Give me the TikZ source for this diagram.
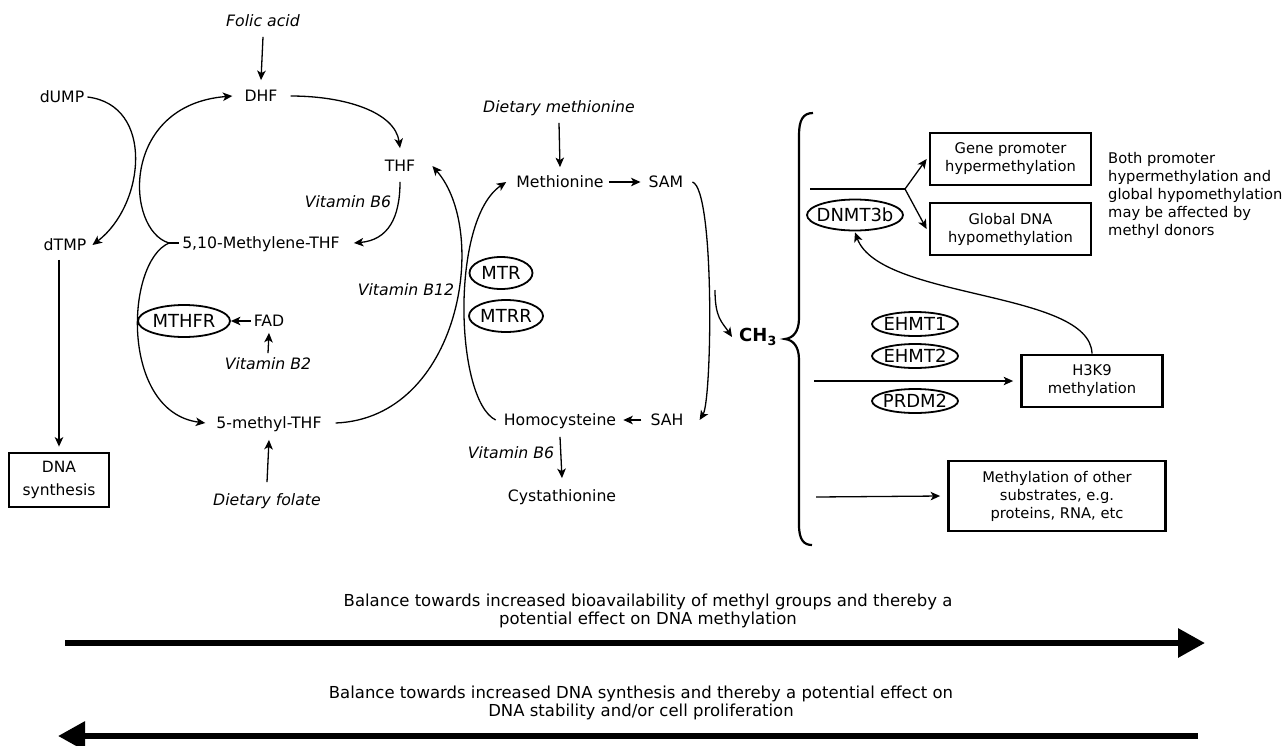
\documentclass[tikz,border=0pt]{standalone}
\usepackage{fontspec}
\setmainfont{DejaVu Sans}
\usetikzlibrary{arrows.meta,shapes.geometric}
\begin{document}
\begin{tikzpicture}[x=1pt,y=-1pt,
  lbl/.style={font=\fontsize{15.7}{19}\selectfont, text height=11.4pt, text depth=0pt, inner sep=3pt},
  itl/.style={lbl, font=\fontsize{15.7}{19}\selectfont\itshape},
  enz/.style={ellipse, draw, line width=1.8pt, inner xsep=-8pt, inner ysep=-4pt, text height=13pt, text depth=0pt, font=\fontsize{18}{20}\selectfont},
  box/.style={draw, line width=2.8pt, align=center, inner sep=0pt, font=\fontsize{14.7}{18}\selectfont},
  conn/.style={line width=1.3pt, -{Stealth[length=9.5pt,width=8.5pt,inset=2.5pt]}},
  plain/.style={line width=1.3pt},
  big/.style={line width=6pt, -{Triangle[length=27pt,width=28pt]}}
]
\useasboundingbox (0,0) rectangle (1284,745);

% ---------- folate cycle ----------
\node[itl] (folic) at (263,21) {Folic acid};
\node[lbl] (dhf) at (261,96) {DHF};
\node[lbl] (dump) at (62,97) {dUMP};
\node[lbl] (dtmp) at (65,245) {dTMP};
\node[lbl] (thf) at (400,166) {THF};
\node[itl] (vb6a) at (348,202) {Vitamin B6};
\node[lbl] (mthf) at (261,243) {5,10-Methylene-THF};
\node[enz, minimum width=92pt, minimum height=32pt] (mthfr) at (184,321) {MTHFR};
\node[lbl] (fad) at (269,321) {FAD};
\node[itl] (vb2) at (268,364) {Vitamin B2};
\node[lbl] (methylthf) at (269,423) {5-methyl-THF};
\node[itl] (folate) at (267,500) {Dietary folate};
\node[box, minimum width=100pt, minimum height=54pt, font=\fontsize{15.5}{23}\selectfont] (dnasyn) at (59,480) {DNA\\synthesis};
\node[itl] (vb12) at (406,290) {Vitamin B12};

% ---------- methionine cycle ----------
\node[itl] (dietmet) at (559,107) {Dietary methionine};
\node[lbl] (methionine) at (560,182) {Methionine};
\node[lbl] (sam) at (666,182) {SAM};
\node[enz, minimum width=63pt, minimum height=32pt] (mtr) at (501,273) {MTR};
\node[enz, minimum width=74pt, minimum height=32pt] (mtrr) at (506,316) {MTRR};
\node[lbl] (homocys) at (560,420) {Homocysteine};
\node[lbl] (sah) at (667,420) {SAH};
\node[itl] (vb6b) at (511,453) {Vitamin B6};
\node[lbl] (cysta) at (562,496) {Cystathionine};

% ---------- methylation ----------
\node[font=\fontsize{18}{20}\selectfont\bfseries, inner sep=3pt] (ch3) at (758,337) {CH\textsubscript{3}};
\node[box, minimum width=161pt, minimum height=52pt] (gene) at (1010.5,159) {Gene promoter\\hypermethylation};
\node[box, minimum width=161pt, minimum height=52pt] (global) at (1010.5,229) {Global DNA\\hypomethylation};
\node[enz, minimum width=96pt, minimum height=31pt] (dnmt) at (855,215) {DNMT3b};
\node[anchor=north west, align=left, inner sep=0pt, font=\fontsize{14.7}{18}\selectfont] (note) at (1108,152) {Both promoter\\hypermethylation and\\global hypomethylation\\may be affected by\\methyl donors};
\node[enz, minimum width=86pt, minimum height=24pt] (ehmt1) at (915,324) {EHMT1};
\node[enz, minimum width=86pt, minimum height=24pt] (ehmt2) at (915,356) {EHMT2};
\node[enz, minimum width=86pt, minimum height=24pt] (prdm2) at (915,401) {PRDM2};
\node[box, minimum width=141pt, minimum height=52pt] (h3k9) at (1092,381) {H3K9\\methylation};
\node[box, minimum width=217pt, minimum height=70pt] (other) at (1057,496) {Methylation of other\\substrates, e.g.\\proteins, RNA, etc};

% ---------- balance ----------
\node[align=center, inner sep=0pt, font=\fontsize{16.5}{18}\selectfont] (bal1) at (648,611) {Balance towards increased bioavailability of methyl groups and thereby a\\potential effect on DNA methylation};
\node[align=center, inner sep=0pt, font=\fontsize{16.5}{18}\selectfont] (bal2) at (641,703) {Balance towards increased DNA synthesis and thereby a potential effect on\\DNA stability and/or cell proliferation};

% ---------- coordinates ----------
\coordinate (mhook) at ([xshift=-10pt]mthf.west);
\coordinate (dts) at ([yshift=-6pt]dtmp.south);
\coordinate (ch3s) at (715,290);
\coordinate (fork0) at (810,189);
\coordinate (fork) at (905,189);
\coordinate (ehs) at (814,381);
\coordinate (ots) at (816,497);
\coordinate (a1s) at (65,643);
\coordinate (a1e) at (1205,643);
\coordinate (a2s) at (1198,736);
\coordinate (a2e) at (58,736);

% ---------- straight connectors ----------
\draw[conn] ([yshift=-7pt]folic.south) -- ([yshift=7pt]dhf.north);
\draw[conn] (fad.west) -- (mthfr.east);
\draw[conn] ([yshift=2pt]vb2.north) -- ([yshift=-3pt]fad.south);
\draw[conn] ([yshift=9pt]folate.north) -- ([yshift=-8pt]methylthf.south);
\draw[conn] (dts -| dnasyn.north) -- ([yshift=5pt]dnasyn.north);
\draw[conn] ([yshift=-7pt]dietmet.south) -- ([yshift=6pt]methionine.north);
\draw[conn] ([xshift=2pt]methionine.east) -- ([xshift=-5pt]sam.west);
\draw[conn] ([xshift=-6pt]sah.west) -- ([xshift=4pt]homocys.east);
\draw[conn] ([yshift=-8pt]homocys.south) -- ([yshift=9pt]cysta.north);

% ---------- curved connectors ----------
\draw[conn] (dump.east) .. controls (155,105) and (145,205) .. ([xshift=3pt]dtmp.east);
\draw[conn] (mhook) .. controls (125,230) and (120,105) .. ([xshift=-9pt]dhf.west);
\draw[plain] (mhook) -- (mthf.west);
\draw[conn] ([xshift=10pt]dhf.east) .. controls (345,96) and (395,112) .. ([yshift=9pt]thf.north);
\draw[conn] ([yshift=-7pt]thf.south) .. controls (400,218) and (388,240) .. ([xshift=11pt]mthf.east);
\draw[conn] (mhook) .. controls (125,262) and (120,412) .. ([xshift=-8pt]methylthf.west);
\draw[conn] ([xshift=11pt]methylthf.east) .. controls (460,418) and (490,232) .. ([xshift=14pt]thf.east);
\draw[conn] ([xshift=-5pt]homocys.west) .. controls (455,400) and (450,220) .. ([xshift=-7pt]methionine.west);
\draw[conn] ([xshift=6pt]sam.east) .. controls (715,190) and (712,400) .. ([xshift=13pt]sah.east);
\draw[conn] (ch3s) .. controls (715,318) and (722,322) .. ([xshift=-4pt]ch3.west);

% ---------- brace ----------
\draw[line width=2.2pt] (813,113) .. controls (803,113) and (799,120) .. (799,135) -- (799,318)
  .. controls (799,332) and (793,338) .. (785,339) .. controls (793,340) and (799,346) .. (799,360)
  -- (799,525) .. controls (799,540) and (804,545) .. (812,545);

% ---------- methylation connectors ----------
\draw[line width=2.5pt] (fork0) -- (fork);
\draw[conn] (fork) -- ([xshift=-2pt]gene.west);
\draw[conn] (fork) -- ([xshift=-2pt]global.west);
\draw[conn] (h3k9.north) .. controls (1090,290) and (880,300) .. ([yshift=-1pt]dnmt.south);
\draw[conn] (ehs) -- ([xshift=-7pt]h3k9.west);
\draw[conn] (ots) -- ([xshift=-7pt]other.west);

% ---------- balance arrows ----------
\draw[big] (a1s) -- (a1e);
\draw[big] (a2s) -- (a2e);
\end{tikzpicture}
\end{document}
